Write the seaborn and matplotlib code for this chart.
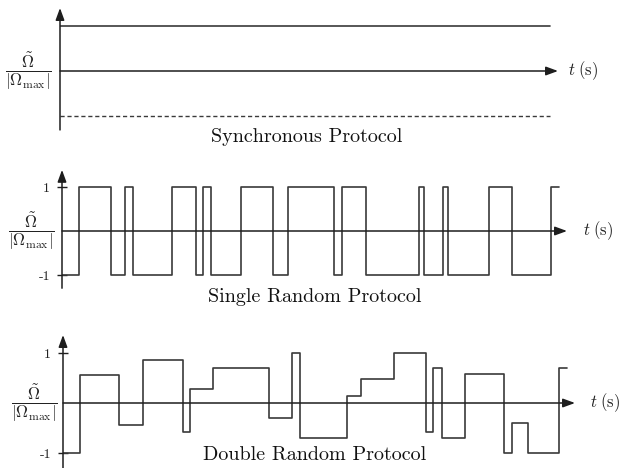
import numpy as np
import pandas as pd
import matplotlib
matplotlib.use("Agg")
import matplotlib.pyplot as plt
import seaborn as sns

# Synchronous protocol: constant upper / lower control level
sync_t = [0.0, 49.0]
sync_upper = [1.0, 1.0]
sync_lower = [-1.0, -1.0]

# Single random protocol: switching times and level after each switch
single_t = [0.0, 1.7, 4.9, 6.3, 7.1, 11.0, 13.4, 14.1, 14.9, 17.9, 21.1, 22.6,
            27.2, 28.0, 30.4, 35.7, 36.2, 38.1, 38.6, 42.7, 45.0, 48.9, 49.7]
single_v = [-1, 1, -1, 1, -1, 1, -1, 1, -1, 1, -1, 1,
            -1, 1, -1, 1, -1, 1, -1, 1, -1, 1, 1]

# Double random protocol: random switching times and random amplitudes
double_t = [0.0, 1.7, 5.6, 8.0, 12.0, 12.7, 15.0, 20.6, 22.9, 23.7, 28.4,
            29.8, 33.1, 36.3, 37.0, 37.9, 40.2, 44.1, 44.9, 46.5, 49.6, 50.4]
double_v = [-1.0, 0.57, -0.43, 0.87, -0.57, 0.29, 0.71, -0.29, 1.0, -0.7, 0.15,
            0.49, 1.0, -0.57, 0.71, -0.7, 0.59, -1.0, -0.39, -1.0, 0.71, 0.71]

titles = ["Synchronous Protocol", "Single Random Protocol", "Double Random Protocol"]
ylabel = r"$\dfrac{\tilde{\Omega}}{|\Omega_{\mathrm{max}}|}$"
xlabel = r"$t\;\mathrm{(s)}$"

sns.set_theme(style="white")
plt.rcParams["mathtext.fontset"] = "cm"
plt.rcParams["font.family"] = ["cmr10", "DejaVu Serif"]
plt.rcParams["axes.unicode_minus"] = False

W, H = 621, 468
fig = plt.figure(figsize=(W / 100, H / 100), dpi=100)
fig.patch.set_facecolor("white")

SIG = "#3a3a3a"
AX = "#1e1e1e"

# (left px, zero-line px from top, px per unit level)
panels = [(60, 71, 45), (62, 231, 44), (63, 403, 50)]
x_scale = 10.0  # px per time unit


def make_axes(left, center, unit):
    h = 3 * unit
    bottom = H - (center + 1.5 * unit)
    ax = fig.add_axes([left / W, bottom / H, 52 * x_scale / W, h / H])
    ax.set_xlim(0, 52)
    ax.set_ylim(-1.5, 1.5)
    ax.patch.set_alpha(0)
    for s in ax.spines.values():
        s.set_visible(False)
    ax.set_xticks([])
    return ax


def draw_axes_arrows(ax, x_end, y_bot, y_top):
    ap = dict(arrowstyle="-|>,head_length=0.6,head_width=0.22", color=AX,
              lw=1.1, shrinkA=0, shrinkB=0)
    ax.annotate("", xy=(x_end, 0), xytext=(0, 0), arrowprops=ap,
                annotation_clip=False)
    ax.annotate("", xy=(0, y_top), xytext=(0, y_bot), arrowprops=ap,
                annotation_clip=False)


axes = [make_axes(*p) for p in panels]

# Panel 1
ax = axes[0]
df_up = pd.DataFrame({"t": sync_t, "v": sync_upper})
df_lo = pd.DataFrame({"t": sync_t, "v": sync_lower})
sns.lineplot(data=df_up, x="t", y="v", ax=ax, color=SIG, lw=1.2, legend=False)
sns.lineplot(data=df_lo, x="t", y="v", ax=ax, color=SIG, lw=1.0, legend=False)
ax.lines[-1].set_dashes((3, 2))
draw_axes_arrows(ax, 49.8, -1.31, 1.40)
ax.set_yticks([])

# Panel 2
ax = axes[1]
df_s = pd.DataFrame({"t": single_t, "v": single_v})
sns.lineplot(data=df_s, x="t", y="v", ax=ax, color=SIG, lw=1.2,
             drawstyle="steps-post", legend=False)
draw_axes_arrows(ax, 50.5, -1.30, 1.39)

# Panel 3
ax = axes[2]
df_d = pd.DataFrame({"t": double_t, "v": double_v})
sns.lineplot(data=df_d, x="t", y="v", ax=ax, color=SIG, lw=1.2,
             drawstyle="steps-post", legend=False)
draw_axes_arrows(ax, 51.2, -1.40, 1.36)

for ax in axes[1:]:
    ax.set_yticks([-1, 1])
    ax.set_yticklabels(["-1", "1"], fontsize=10, color="#222222")
    ax.tick_params(axis="y", direction="inout", length=7, width=1.0,
                   color=AX, pad=5, left=True)
for ax in axes:
    ax.set_xlabel("")
    ax.set_ylabel("")

# Labels
label_x = [28, 31, 34]
xlabel_x = [568, 583, 590]
title_pos = [(307, 137), (315, 297), (315, 455)]
for ax, (left, center, unit), lx, tx, (cx, cy), title in zip(
        axes, panels, label_x, xlabel_x, title_pos, titles):
    ax.text((lx - left) / x_scale, 0, ylabel, ha="center", va="center",
            fontsize=12, clip_on=False, color="#222222")
    ax.text((tx - left) / x_scale, 0, xlabel, ha="left", va="center",
            fontsize=12, clip_on=False, color="#222222")
    ax.text((cx - left) / x_scale, (center - cy) / unit, title, ha="center",
            va="center", fontsize=14.5, clip_on=False, color="#111111")

fig.savefig("out.png", dpi=100, facecolor="white")
